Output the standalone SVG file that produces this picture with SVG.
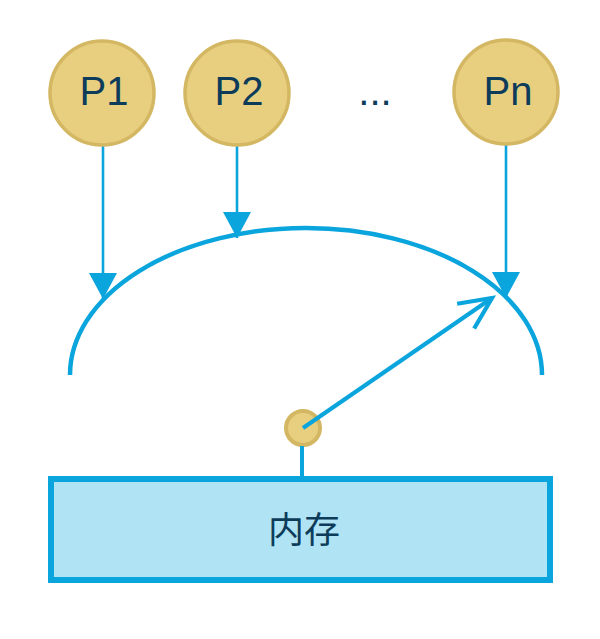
<svg xmlns="http://www.w3.org/2000/svg" width="600" height="639" viewBox="0 0 600 639">
  <style>
    .proc { fill: #e8cf80; stroke: #d4b762; stroke-width: 3.5; }
    .lbl { font-family: "Liberation Sans", Arial, sans-serif; font-size: 40px; fill: #0c3c5a; text-anchor: middle; }
    .conn { stroke: #0aa5dc; stroke-width: 2.6; fill: none; }
  </style>
  <defs>
    <marker id="tri" markerUnits="userSpaceOnUse" markerWidth="28" markerHeight="28" refX="26" refY="14" orient="auto" viewBox="0 0 28 28">
      <path d="M0,0 L26,14 L0,28 z" fill="#0aa5dc"/>
    </marker>
    <marker id="vee" markerUnits="userSpaceOnUse" markerWidth="38" markerHeight="34" refX="33" refY="17" orient="auto" viewBox="0 0 38 34">
      <path d="M1,2 L33,17 L1,32" fill="none" stroke="#0aa5dc" stroke-width="4.2"/>
    </marker>
  </defs>
  <rect width="600" height="639" fill="#ffffff"/>

  <g id="pointer">
    <circle cx="303" cy="428" r="17" fill="#e8cf80" stroke="#d4b762" stroke-width="4"/>
  </g>

  <g id="connectors">
    <path id="arc" d="M70,375 A236,147 0 0 1 542,375" fill="none" stroke="#0aa5dc" stroke-width="4.5"/>
    <line class="conn" x1="103" y1="146" x2="103" y2="299" marker-end="url(#tri)"/>
    <line class="conn" x1="237" y1="146" x2="237" y2="238" marker-end="url(#tri)"/>
    <line class="conn" x1="506" y1="145" x2="506" y2="298" marker-end="url(#tri)"/>
    <line x1="303" y1="428" x2="492" y2="298" stroke="#0aa5dc" stroke-width="4.2" marker-end="url(#vee)"/>
    <line x1="302" y1="446" x2="302" y2="479" stroke="#0aa5dc" stroke-width="4"/>
  </g>

  <g id="p1">
    <circle class="proc" cx="102" cy="93" r="52"/>
    <text class="lbl" x="104" y="105">P1</text>
  </g>
  <g id="p2">
    <circle class="proc" cx="237" cy="93" r="52"/>
    <text class="lbl" x="239" y="105">P2</text>
  </g>
  <g id="dots">
    <text x="375" y="105" font-family="Liberation Sans, Arial, sans-serif" font-size="40" fill="#0c3c5a" text-anchor="middle">...</text>
  </g>
  <g id="pn">
    <circle class="proc" cx="506" cy="92" r="52"/>
    <text class="lbl" x="508" y="105">Pn</text>
  </g>

  <g id="memory">
    <rect x="51" y="479" width="499" height="101" fill="#b0e3f3" stroke="#0aa5dc" stroke-width="6"/>
    <text x="304" y="543" font-family="Noto Sans CJK SC, sans-serif" font-size="36" fill="#0c3c5a" text-anchor="middle">内存</text>
  </g>
</svg>
